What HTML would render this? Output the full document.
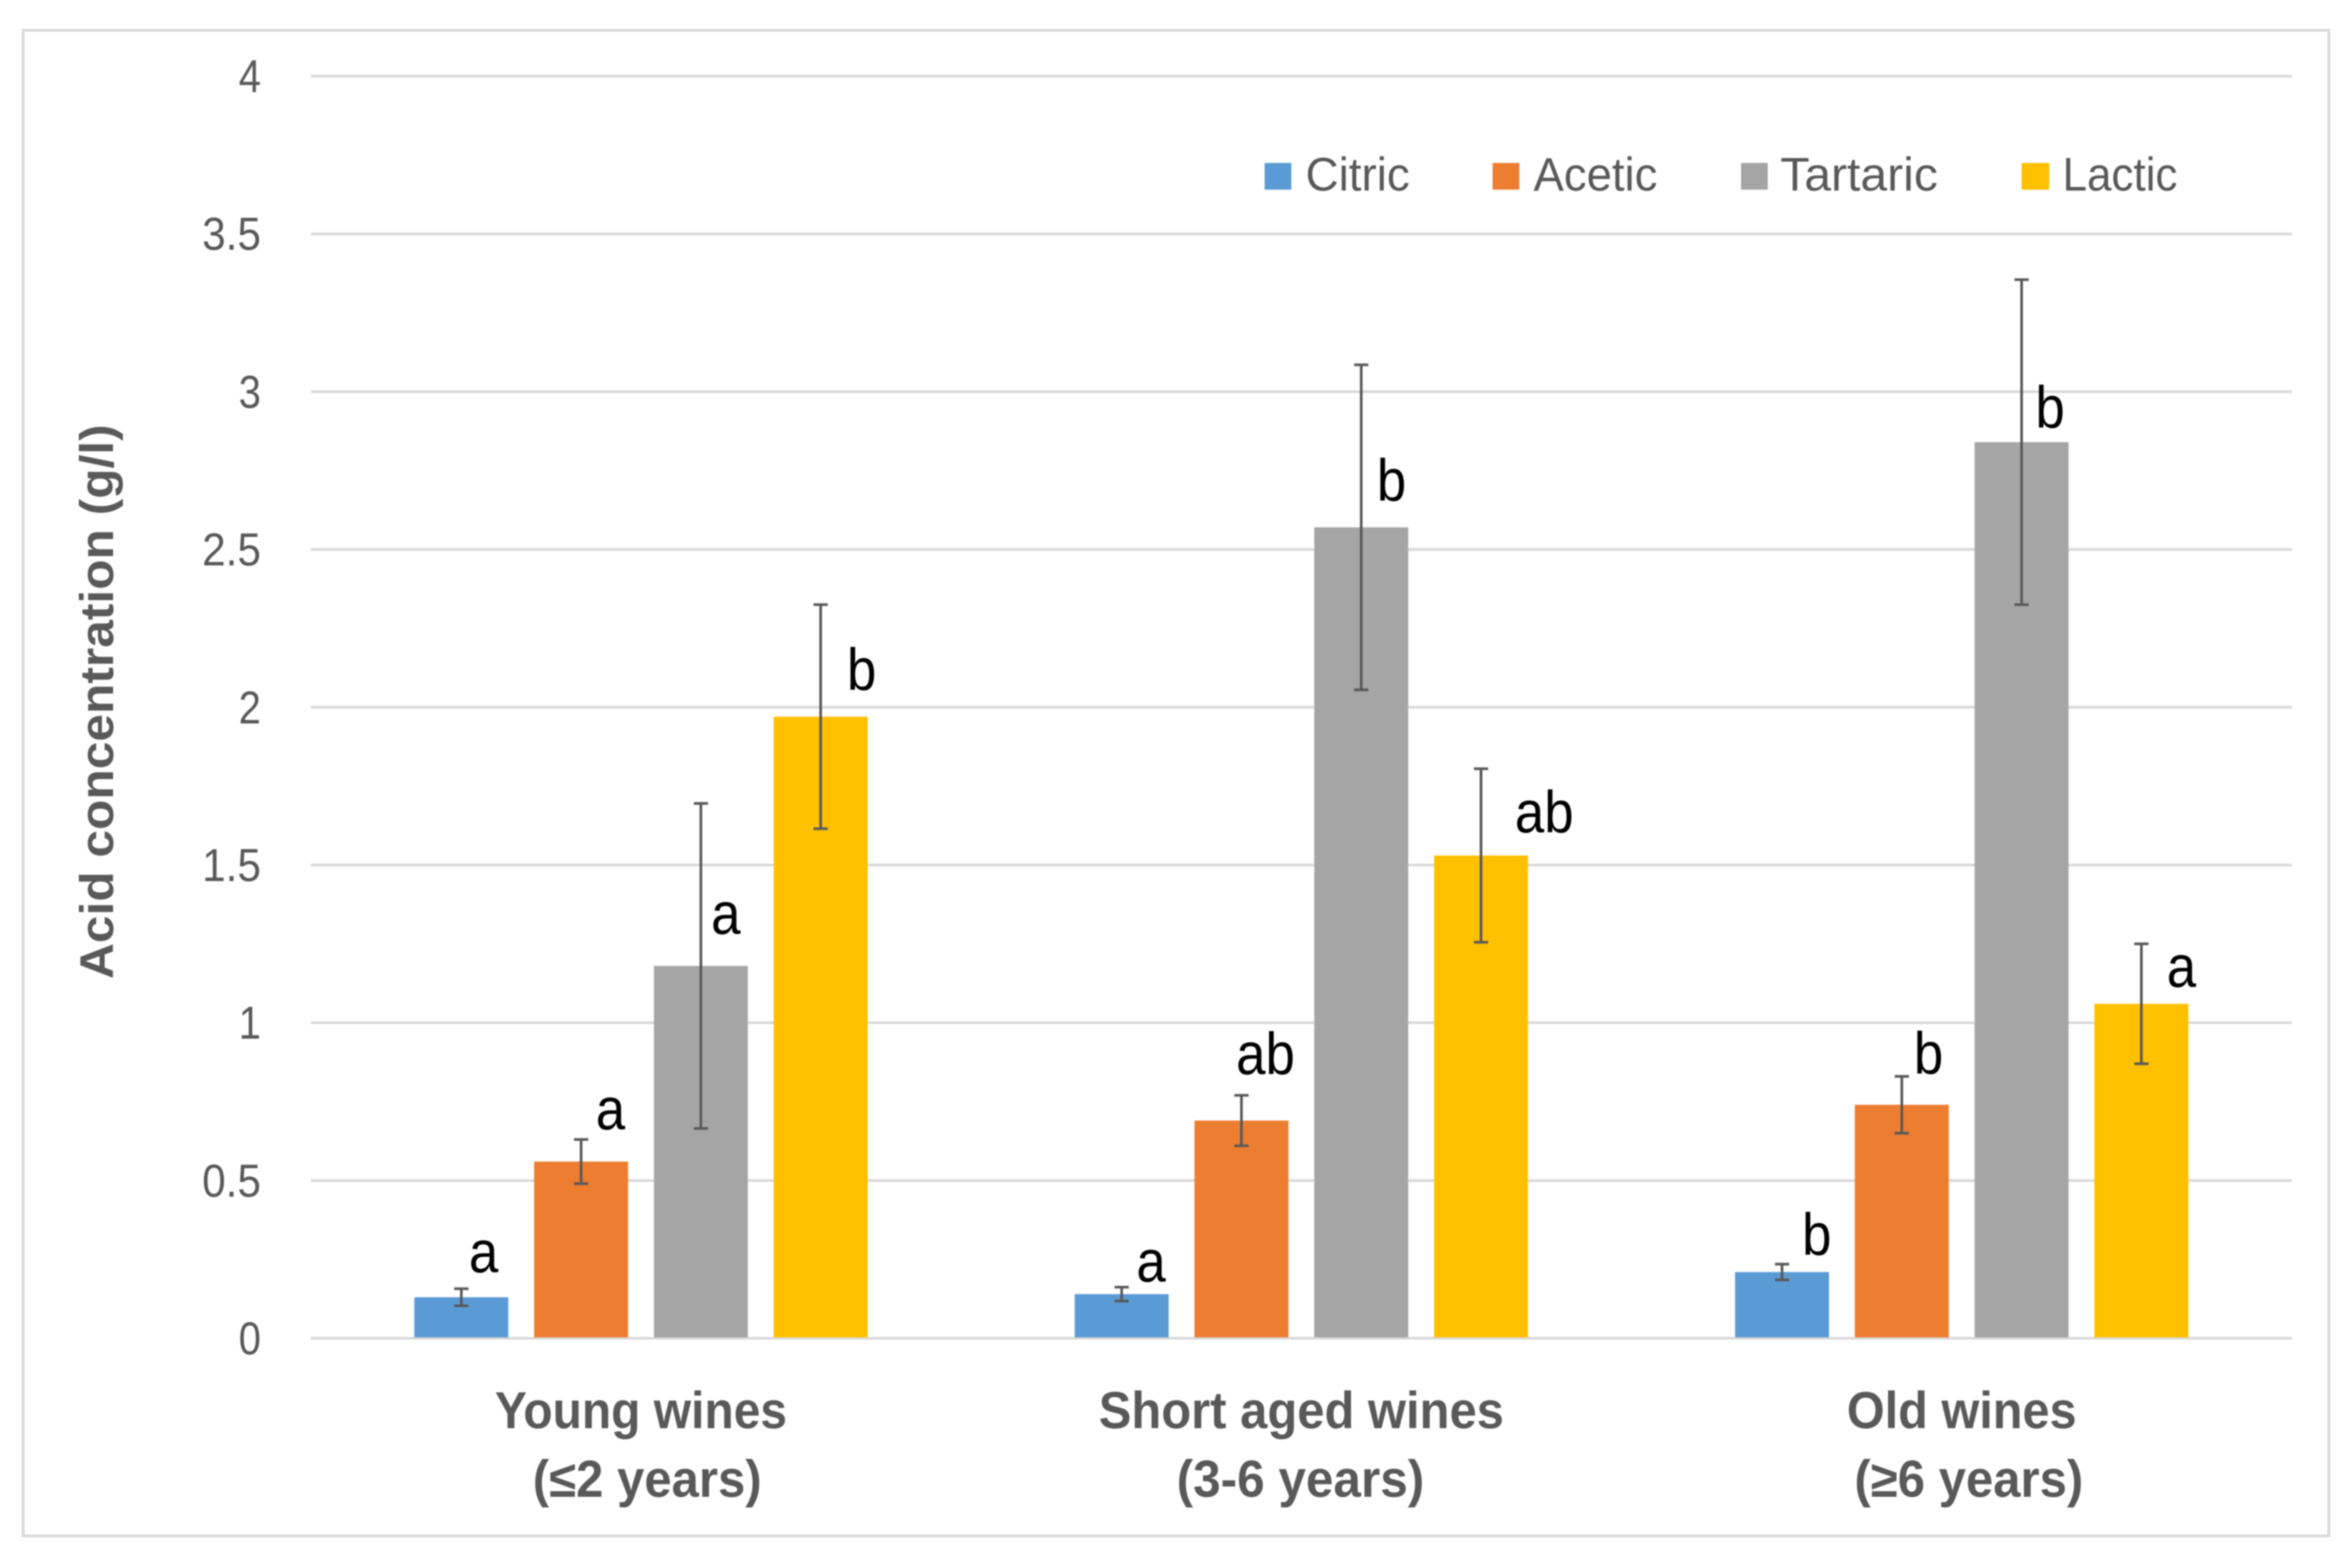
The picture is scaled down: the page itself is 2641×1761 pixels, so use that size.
<!DOCTYPE html>
<html lang="en">
<head>
<meta charset="utf-8">
<title>Acid concentration by wine age</title>
<style>
  html, body { margin: 0; padding: 0; background: #fff; width: 2641px; height: 1761px; overflow: hidden; }
  svg { display: block; font-family: "Liberation Sans", sans-serif; filter: blur(0.7px); }
</style>
</head>
<body>
<svg id="chart" xmlns="http://www.w3.org/2000/svg" width="2641" height="1761" viewBox="0 0 2641 1761">
  <rect x="0" y="0" width="2641" height="1761" fill="#ffffff"/>
  <rect x="26" y="34" width="2589" height="1691" fill="#ffffff" stroke="#d9d9d9" stroke-width="3"/>
  <g id="grid"></g>
  <g id="yticks"></g>
  <g id="bars"></g>
  <g id="errors"></g>
  <g id="letters"></g>
  <g id="xlabels"></g>
  <text transform="translate(127,788) rotate(-90)" text-anchor="middle" font-size="53" font-weight="700" fill="#595959" textLength="623" lengthAdjust="spacingAndGlyphs">Acid concentration (g/l)</text>
  <g>
    <g>
      <rect x="1420" y="183" width="30" height="30" fill="#5B9BD5"/>
      <text x="1466" y="214" font-size="53" fill="#595959" textLength="117" lengthAdjust="spacingAndGlyphs">Citric</text>
    </g>
    <g>
      <rect x="1676" y="183" width="30" height="30" fill="#ED7D31"/>
      <text x="1722" y="214" font-size="53" fill="#595959" textLength="139" lengthAdjust="spacingAndGlyphs">Acetic</text>
    </g>
    <g>
      <rect x="1955" y="183" width="30" height="30" fill="#A5A5A5"/>
      <text x="1999" y="214" font-size="53" fill="#595959" textLength="177" lengthAdjust="spacingAndGlyphs">Tartaric</text>
    </g>
    <g>
      <rect x="2270" y="183" width="31" height="30" fill="#FFC000"/>
      <text x="2316" y="214" font-size="53" fill="#595959" textLength="129" lengthAdjust="spacingAndGlyphs">Lactic</text>
    </g>
  </g>
</svg>
<script>
// ---- chart data ----
const categoryLine1 = ["Young wines", "Short aged wines", "Old wines"];
const categoryLine2 = ["(≤2 years)", "(3-6 years)", "(≥6 years)"];
const yTicks = [0, 0.5, 1, 1.5, 2, 2.5, 3, 3.5, 4];
const yTickLabels = ["0", "0.5", "1", "1.5", "2", "2.5", "3", "3.5", "4"];
const seriesNames = ["citric", "acetic", "tartaric", "lactic"];
const citric = [0.13, 0.14, 0.21];
const acetic = [0.56, 0.69, 0.74];
const tartaric = [1.18, 2.57, 2.84];
const lactic = [1.97, 1.53, 1.06];
const citricErr = [0.027, 0.022, 0.025];
const aceticErr = [0.07, 0.08, 0.09];
const tartaricErr = [0.515, 0.515, 0.515];
const lacticErr = [0.355, 0.275, 0.19];
const citricLetters = ["a", "a", "b"];
const aceticLetters = ["a", "ab", "b"];
const tartaricLetters = ["a", "b", "b"];
const lacticLetters = ["b", "ab", "a"];

// ---- layout ----
const SVGNS = "http://www.w3.org/2000/svg";
const plotLeft = 349, plotRight = 2573.5, plotBottom = 1503, plotTop = 85.5, yMax = 4;
const barWidth = 105.5, barStep = 134.5;
const colors = ["#5B9BD5", "#ED7D31", "#A5A5A5", "#FFC000"];
const allValues = [citric, acetic, tartaric, lactic];
const allErrors = [citricErr, aceticErr, tartaricErr, lacticErr];
const allLetters = [citricLetters, aceticLetters, tartaricLetters, lacticLetters];
// annotation nudges relative to each bar's centre / top: [series][category] -> dx, dy
const letterNudgeX = [[25, 33, 39], [33, 27, 30], [28, 34, 32], [46, 71, 45]];
const letterNudgeY = [[-29, -15, -20], [-37, -53, -36], [-37, -31, -17], [-31, -27, -20]];
const line1Width = [328, 455, 258];
const line2Width = [257, 278, 257];
const line2Shift = [7, -1, 8];

function xCategory(c) { return plotLeft + (plotRight - plotLeft) * (c + 0.5) / categoryLine1.length; }
function xBarCenter(c, s) { return xCategory(c) + (s - (seriesNames.length - 1) / 2) * barStep; }
function yValue(v) { return plotBottom - (plotBottom - plotTop) * v / yMax; }
function make(tag, parent, attrs) {
  const el = document.createElementNS(SVGNS, tag);
  for (const k in attrs) el.setAttribute(k, attrs[k]);
  parent.appendChild(el);
  return el;
}

const gridG = document.getElementById("grid");
const tickG = document.getElementById("yticks");
yTicks.forEach(function (t, i) {
  const line = make("line", gridG, { x1: plotLeft, x2: plotRight, y1: yValue(t), y2: yValue(t), stroke: "#d9d9d9", "stroke-width": 3 });
  
  
  const txt = yTickLabels[i];
  const label = make("text", tickG, {
    x: 293, y: yValue(t) + 18, "text-anchor": "end", "font-size": 52, fill: "#595959",
    textLength: txt.length > 1 ? 66 : 25, lengthAdjust: "spacingAndGlyphs"
  });
  
  
  label.textContent = txt;
});

const barG = document.getElementById("bars");
const errG = document.getElementById("errors");
const letG = document.getElementById("letters");
seriesNames.forEach(function (name, s) {
  categoryLine1.forEach(function (cat, c) {
    const v = allValues[s][c], e = allErrors[s][c], cx = xBarCenter(c, s);
    const bar = make("rect", barG, { x: cx - barWidth / 2, y: yValue(v), width: barWidth, height: plotBottom - yValue(v) - 1, fill: colors[s] });
    
    

    const hi = yValue(v + e), lo = yValue(v - e);
    const stem = make("line", errG, { x1: cx, x2: cx, y1: hi, y2: lo, stroke: "#595959", "stroke-width": 3 });
    
    
    const capTop = make("line", errG, { x1: cx - 8, x2: cx + 8, y1: hi, y2: hi, stroke: "#595959", "stroke-width": 3 });
    
    
    const capBottom = make("line", errG, { x1: cx - 8, x2: cx + 8, y1: lo, y2: lo, stroke: "#595959", "stroke-width": 3 });
    
    

    const txt = allLetters[s][c];
    const letter = make("text", letG, {
      x: cx + letterNudgeX[s][c], y: yValue(v) + letterNudgeY[s][c] + 1, "text-anchor": "middle",
      "font-size": 67, fill: "#000000", textLength: txt.length * 33, lengthAdjust: "spacingAndGlyphs"
    });
    
    
    letter.textContent = txt;
  });
});

const xG = document.getElementById("xlabels");
categoryLine1.forEach(function (cat, c) {
  const l1 = make("text", xG, {
    x: xCategory(c), y: 1604, "text-anchor": "middle", "font-size": 58, "font-weight": 700, fill: "#595959",
    textLength: line1Width[c], lengthAdjust: "spacingAndGlyphs"
  });
  
  
  l1.textContent = cat;
  const l2 = make("text", xG, {
    x: xCategory(c) + line2Shift[c], y: 1681, "text-anchor": "middle", "font-size": 58, "font-weight": 700, fill: "#595959",
    textLength: line2Width[c], lengthAdjust: "spacingAndGlyphs"
  });
  
  
  l2.textContent = categoryLine2[c];
});
</script>
</body>
</html>
